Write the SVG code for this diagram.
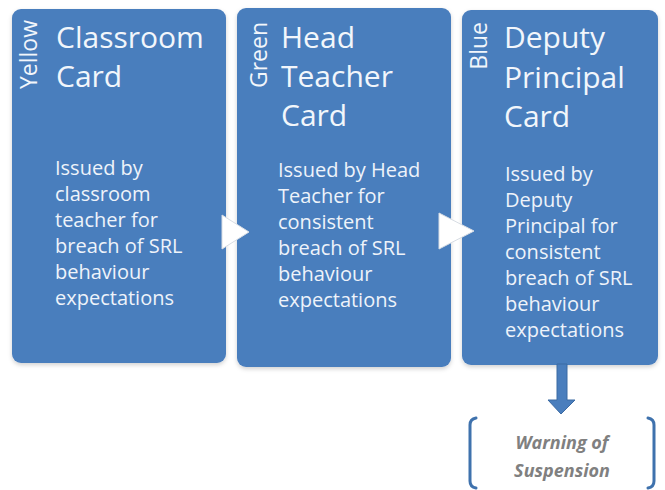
<svg xmlns="http://www.w3.org/2000/svg" width="665" height="490" viewBox="0 0 665 490">
  <defs>
    <filter id="soft" x="-5%" y="-5%" width="110%" height="110%">
      <feDropShadow dx="0" dy="2" stdDeviation="2" flood-color="#000" flood-opacity="0.18"/>
    </filter>
    <style>
      .card { fill: #4a7ebd; filter: url(#soft); }
      .title { font-family: "Open Sans", "Noto Sans", sans-serif; font-size: 30px; fill: #f2f6fb; }
      .side { font-family: "Open Sans", "Noto Sans", sans-serif; font-size: 23px; fill: #f2f6fb; text-anchor: end; }
      .body { font-family: "Open Sans", "Noto Sans", sans-serif; font-size: 20px; fill: #eef3fa; }
      .step { fill: #ffffff; stroke: #d8dde4; stroke-width: 1; }
      .down { fill: #4a7ebd; stroke: #3b6aa3; stroke-width: 1; }
      .bracket { fill: none; stroke: #3f72ad; stroke-width: 3; stroke-linecap: round; stroke-linejoin: round; }
      .note { font-family: "Open Sans", "Noto Sans", sans-serif; font-size: 18px; font-weight: bold; font-style: italic; fill: #808080; text-anchor: middle; }
    </style>
  </defs>

  <rect width="665" height="490" fill="#ffffff"/>

  <!-- Yellow card -->
  <g id="classroom-card">
    <rect class="card" x="12" y="9" width="214" height="354" rx="9"/>
    <text class="side" transform="translate(37,20) rotate(-90)">Yellow</text>
    <text class="title" x="56" y="48">Classroom</text>
    <text class="title" x="56" y="87">Card</text>
    <text class="body">
      <tspan x="55" y="175">Issued by</tspan>
      <tspan x="55" y="201">classroom</tspan>
      <tspan x="55" y="227">teacher for</tspan>
      <tspan x="55" y="253">breach of SRL</tspan>
      <tspan x="55" y="279">behaviour</tspan>
      <tspan x="55" y="305">expectations</tspan>
    </text>
  </g>

  <!-- Green card -->
  <g id="head-teacher-card">
    <rect class="card" x="237" y="8" width="214" height="359" rx="9"/>
    <text class="side" transform="translate(267,22) rotate(-90)">Green</text>
    <text class="title" x="281" y="48">Head</text>
    <text class="title" x="281" y="87">Teacher</text>
    <text class="title" x="281" y="126">Card</text>
    <text class="body">
      <tspan x="278" y="177">Issued by Head</tspan>
      <tspan x="278" y="203">Teacher for</tspan>
      <tspan x="278" y="229">consistent</tspan>
      <tspan x="278" y="255">breach of SRL</tspan>
      <tspan x="278" y="281">behaviour</tspan>
      <tspan x="278" y="307">expectations</tspan>
    </text>
  </g>

  <!-- Blue card -->
  <g id="deputy-principal-card">
    <rect class="card" x="462" y="10" width="196" height="355" rx="9"/>
    <text class="side" transform="translate(487,22) rotate(-90)">Blue</text>
    <text class="title" x="504" y="48">Deputy</text>
    <text class="title" x="504" y="88">Principal</text>
    <text class="title" x="504" y="127">Card</text>
    <text class="body">
      <tspan x="505" y="181">Issued by</tspan>
      <tspan x="505" y="207">Deputy</tspan>
      <tspan x="505" y="233">Principal for</tspan>
      <tspan x="505" y="259">consistent</tspan>
      <tspan x="505" y="285">breach of SRL</tspan>
      <tspan x="505" y="311">behaviour</tspan>
      <tspan x="505" y="337">expectations</tspan>
    </text>
  </g>

  <!-- Suspension warning -->
  <g id="warning">
    <path class="bracket" d="M476,418 Q470,419 470,425 L470,481 Q470,487 476,488"/>
    <path class="bracket" d="M648,418 Q654,419 654,425 L654,481 Q654,487 648,488"/>
    <text class="note" x="562" y="449">Warning of</text>
    <text class="note" x="562" y="477">Suspension</text>
  </g>

  <!-- Connectors -->
  <g id="connectors">
    <polygon class="step" points="222,215 249,232 222,249"/>
    <polygon class="step" points="439,213 474,231 439,249"/>
    <polygon class="down" points="557,364 567,364 567,400 575,400 561,414 548,400 557,400"/>
  </g>
</svg>
